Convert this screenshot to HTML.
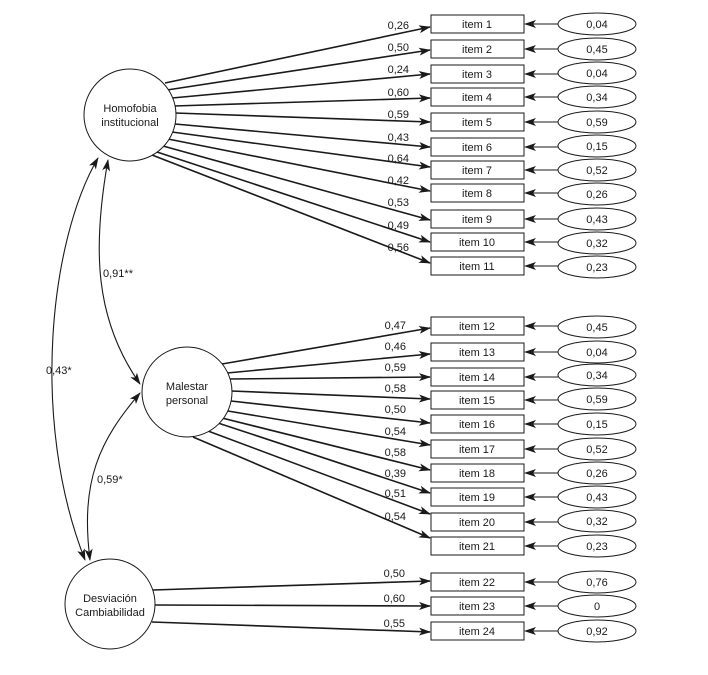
<!DOCTYPE html>
<html><head><meta charset="utf-8"><style>
html,body{margin:0;padding:0;background:#fff;}
svg{display:block;font-family:"Liberation Sans",sans-serif;}
text{font-size:11px;fill:#1a1a1a;}
</style></head><body>
<svg width="708" height="675" viewBox="0 0 708 675" xmlns="http://www.w3.org/2000/svg">
<defs>
<marker id="a" markerWidth="12" markerHeight="8" refX="11" refY="4" orient="auto" markerUnits="userSpaceOnUse">
<path d="M0,0 L12,4 L0,8 L3,4 Z" fill="#1a1a1a"/></marker>
<marker id="b" markerWidth="12" markerHeight="8" refX="11" refY="4" orient="auto-start-reverse" markerUnits="userSpaceOnUse">
<path d="M0,0 L12,4 L0,8 L3,4 Z" fill="#1a1a1a"/></marker>
</defs>
<g stroke="#1a1a1a" stroke-width="1.6" fill="none" marker-end="url(#a)">
<line x1="165" y1="83" x2="430" y2="27"/>
<line x1="167" y1="90" x2="430" y2="50"/>
<line x1="172" y1="98" x2="430" y2="74"/>
<line x1="174" y1="106" x2="430" y2="98"/>
<line x1="175" y1="113" x2="430" y2="122"/>
<line x1="175" y1="124" x2="430" y2="147"/>
<line x1="172" y1="132" x2="430" y2="167"/>
<line x1="168" y1="139" x2="430" y2="191"/>
<line x1="163" y1="146" x2="430" y2="220"/>
<line x1="157" y1="152" x2="430" y2="242"/>
<line x1="152" y1="155" x2="430" y2="263"/>
<line x1="222" y1="364" x2="430" y2="328"/>
<line x1="227" y1="373" x2="430" y2="354"/>
<line x1="229" y1="379" x2="430" y2="377"/>
<line x1="231" y1="391" x2="430" y2="399"/>
<line x1="231" y1="401" x2="430" y2="423"/>
<line x1="228" y1="411" x2="430" y2="445"/>
<line x1="222" y1="418" x2="430" y2="470"/>
<line x1="218" y1="423" x2="430" y2="493"/>
<line x1="208" y1="431" x2="430" y2="514"/>
<line x1="193" y1="437" x2="430" y2="538"/>
<line x1="153" y1="590" x2="430" y2="581"/>
<line x1="155" y1="605" x2="430" y2="606"/>
<line x1="152" y1="622" x2="430" y2="632"/>
</g>
<g stroke="#1a1a1a" stroke-width="1.1" fill="none" marker-end="url(#a)" marker-start="url(#b)">
<path d="M98,158 C50,240 30,420 85,560"/>
<path d="M108,160 C92,250 95,320 140,384"/>
<path d="M140,393 C100,440 80,480 90,560"/>
</g>
<g stroke="#1a1a1a" stroke-width="1" fill="#fff">
<circle cx="130" cy="115" r="46"/>
<circle cx="187" cy="392" r="45"/>
<circle cx="110" cy="604" r="45"/>
</g>
<g text-anchor="middle" style="font-size:12px">
<text x="130" y="112">Homofobia</text><text x="130" y="126">institucional</text>
<text x="187" y="390">Malestar</text><text x="187" y="404">personal</text>
<text x="110" y="602">Desviación</text><text x="110" y="616">Cambiabilidad</text>
</g>
<g stroke="#1a1a1a" stroke-width="1" fill="#fff">
<rect x="431" y="15" width="93" height="18"/><rect x="431" y="40" width="93" height="18"/>
<rect x="431" y="65" width="93" height="18"/><rect x="431" y="88" width="93" height="18"/>
<rect x="431" y="113" width="93" height="18"/><rect x="431" y="138" width="93" height="18"/>
<rect x="431" y="161" width="93" height="18"/><rect x="431" y="184" width="93" height="18"/>
<rect x="431" y="210" width="93" height="18"/><rect x="431" y="233" width="93" height="18"/>
<rect x="431" y="257" width="93" height="18"/>
<rect x="431" y="317" width="93" height="18"/><rect x="431" y="343" width="93" height="18"/>
<rect x="431" y="368" width="93" height="18"/><rect x="431" y="391" width="93" height="18"/>
<rect x="431" y="415" width="93" height="18"/><rect x="431" y="440" width="93" height="18"/>
<rect x="431" y="464" width="93" height="18"/><rect x="431" y="488" width="93" height="18"/>
<rect x="431" y="513" width="93" height="18"/><rect x="431" y="537" width="93" height="18"/>
<rect x="431" y="573" width="93" height="18"/><rect x="431" y="597" width="93" height="18"/>
<rect x="431" y="622" width="93" height="18"/>
</g>
<g text-anchor="middle">
<text x="477" y="28">item 1</text><text x="477" y="53">item 2</text><text x="477" y="78">item 3</text>
<text x="477" y="101">item 4</text><text x="477" y="126">item 5</text><text x="477" y="151">item 6</text>
<text x="477" y="174">item 7</text><text x="477" y="197">item 8</text><text x="477" y="223">item 9</text>
<text x="477" y="246">item 10</text><text x="477" y="270">item 11</text>
<text x="477" y="330">item 12</text><text x="477" y="356">item 13</text><text x="477" y="381">item 14</text>
<text x="477" y="404">item 15</text><text x="477" y="428">item 16</text><text x="477" y="453">item 17</text>
<text x="477" y="477">item 18</text><text x="477" y="501">item 19</text><text x="477" y="526">item 20</text>
<text x="477" y="550">item 21</text><text x="477" y="586">item 22</text><text x="477" y="610">item 23</text>
<text x="477" y="635">item 24</text>
</g>
<g stroke="#1a1a1a" stroke-width="1.1" fill="none" marker-end="url(#a)">
<line x1="558" y1="24" x2="525" y2="24"/><line x1="558" y1="49" x2="525" y2="49"/>
<line x1="558" y1="74" x2="525" y2="74"/><line x1="558" y1="97" x2="525" y2="97"/>
<line x1="558" y1="122" x2="525" y2="122"/><line x1="558" y1="147" x2="525" y2="147"/>
<line x1="558" y1="170" x2="525" y2="170"/><line x1="558" y1="193" x2="525" y2="193"/>
<line x1="558" y1="219" x2="525" y2="219"/><line x1="558" y1="242" x2="525" y2="242"/>
<line x1="558" y1="266" x2="525" y2="266"/>
<line x1="558" y1="326" x2="525" y2="326"/><line x1="558" y1="352" x2="525" y2="352"/>
<line x1="558" y1="377" x2="525" y2="377"/><line x1="558" y1="400" x2="525" y2="400"/>
<line x1="558" y1="424" x2="525" y2="424"/><line x1="558" y1="449" x2="525" y2="449"/>
<line x1="558" y1="473" x2="525" y2="473"/><line x1="558" y1="497" x2="525" y2="497"/>
<line x1="558" y1="522" x2="525" y2="522"/><line x1="558" y1="546" x2="525" y2="546"/>
<line x1="558" y1="582" x2="525" y2="582"/><line x1="558" y1="606" x2="525" y2="606"/>
<line x1="558" y1="631" x2="525" y2="631"/>
</g>
<g stroke="#1a1a1a" stroke-width="1" fill="#fff">
<ellipse cx="597" cy="24" rx="39" ry="11"/><ellipse cx="597" cy="49" rx="39" ry="11"/>
<ellipse cx="597" cy="73" rx="39" ry="11"/><ellipse cx="597" cy="97" rx="39" ry="11"/>
<ellipse cx="597" cy="122" rx="39" ry="11"/><ellipse cx="597" cy="146" rx="39" ry="11"/>
<ellipse cx="597" cy="170" rx="39" ry="11"/><ellipse cx="597" cy="194" rx="39" ry="11"/>
<ellipse cx="597" cy="219" rx="39" ry="11"/><ellipse cx="597" cy="243" rx="39" ry="11"/>
<ellipse cx="597" cy="267" rx="39" ry="11"/>
<ellipse cx="597" cy="327" rx="39" ry="11"/><ellipse cx="597" cy="352" rx="39" ry="11"/>
<ellipse cx="597" cy="375" rx="39" ry="11"/><ellipse cx="597" cy="399" rx="39" ry="11"/>
<ellipse cx="597" cy="424" rx="39" ry="11"/><ellipse cx="597" cy="449" rx="39" ry="11"/>
<ellipse cx="597" cy="473" rx="39" ry="11"/><ellipse cx="597" cy="497" rx="39" ry="11"/>
<ellipse cx="597" cy="521" rx="39" ry="11"/><ellipse cx="597" cy="546" rx="39" ry="11"/>
<ellipse cx="597" cy="582" rx="39" ry="11"/><ellipse cx="597" cy="606" rx="39" ry="11"/>
<ellipse cx="597" cy="631" rx="39" ry="11"/>
</g>
<g text-anchor="middle">
<text x="597" y="28">0,04</text><text x="597" y="53">0,45</text><text x="597" y="77">0,04</text>
<text x="597" y="101">0,34</text><text x="597" y="126">0,59</text><text x="597" y="150">0,15</text>
<text x="597" y="174">0,52</text><text x="597" y="198">0,26</text><text x="597" y="223">0,43</text>
<text x="597" y="247">0,32</text><text x="597" y="271">0,23</text>
<text x="597" y="331">0,45</text><text x="597" y="356">0,04</text><text x="597" y="379">0,34</text>
<text x="597" y="403">0,59</text><text x="597" y="428">0,15</text><text x="597" y="453">0,52</text>
<text x="597" y="477">0,26</text><text x="597" y="501">0,43</text><text x="597" y="525">0,32</text>
<text x="597" y="550">0,23</text><text x="597" y="586">0,76</text><text x="597" y="610">0</text>
<text x="597" y="635">0,92</text>
</g>
<g text-anchor="end">
<text x="409" y="29">0,26</text><text x="409" y="51">0,50</text><text x="409" y="73">0,24</text>
<text x="409" y="96">0,60</text><text x="409" y="118">0,59</text><text x="409" y="141">0,43</text>
<text x="409" y="162">0,64</text><text x="409" y="184">0,42</text><text x="409" y="206">0,53</text>
<text x="409" y="229">0,49</text><text x="409" y="251">0,56</text>
<text x="406" y="329">0,47</text><text x="406" y="350">0,46</text><text x="406" y="371">0,59</text>
<text x="406" y="392">0,58</text><text x="406" y="413">0,50</text><text x="406" y="435">0,54</text>
<text x="406" y="456">0,58</text><text x="406" y="477">0,39</text><text x="406" y="497">0,51</text>
<text x="406" y="520">0,54</text>
<text x="405" y="577">0,50</text><text x="405" y="602">0,60</text><text x="405" y="627">0,55</text>
</g>
<text x="103" y="277">0,91**</text>
<text x="46" y="374">0,43*</text>
<text x="97" y="483">0,59*</text>
</svg>
</body></html>
